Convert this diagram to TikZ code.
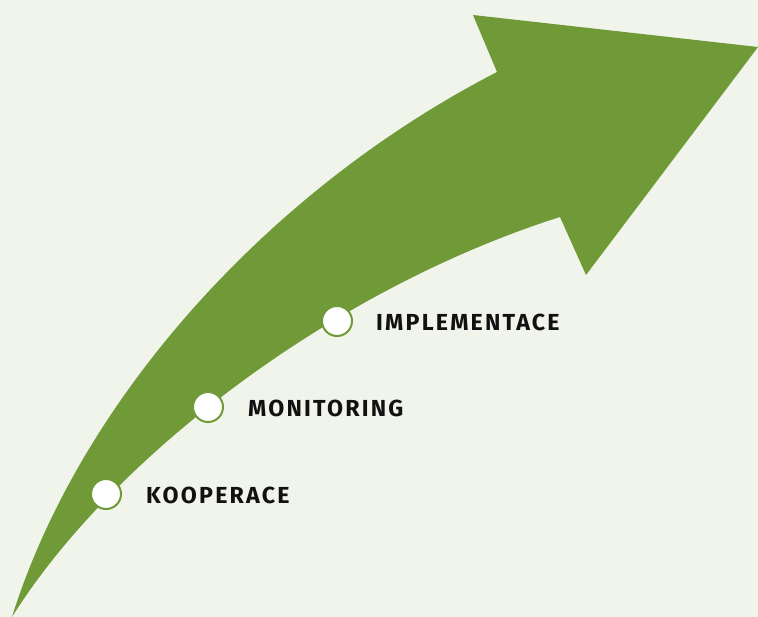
\documentclass[tikz,border=0pt]{standalone}
\usepackage{fontspec}
\setmainfont{Fira Sans}
\newfontfamily\labelfont[LetterSpace=9.5]{Fira Sans Bold}
\definecolor{bgc}{HTML}{F0F4EB}
\definecolor{arrowgreen}{HTML}{6F9A37}
\definecolor{txt}{HTML}{111111}
\begin{document}
\begin{tikzpicture}[x=1pt,y=-1pt,
  stepdot/.style={circle,fill=white,draw=arrowgreen,line width=2pt,minimum size=30pt,inner sep=0pt},
  steplabel/.style={anchor=west,text=txt,font=\labelfont\fontsize{23.2}{27}\selectfont,inner sep=0pt}]
\fill[bgc] (0,0) rectangle (758,617);
\useasboundingbox (0,0) rectangle (758,617);
% arrow body
\fill[arrowgreen] (12,617) .. controls (80,400) and (268,190) .. (497,72)
  -- (473,15) -- (758,47) -- (586,275) -- (560,217)
  .. controls (330,290) and (110,460) .. (12,617) -- cycle;
% steps
\node[stepdot] (d1) at (106,494) {};
\node[stepdot] (d2) at (208,407) {};
\node[stepdot] (d3) at (337,321) {};
\node[steplabel] (l1) at ([xshift=24pt,yshift=-1pt]d1.east) {KOOPERACE};
\node[steplabel] (l2) at ([xshift=24pt,yshift=-1pt]d2.east) {MONITORING};
\node[steplabel] (l3) at ([xshift=23pt,yshift=-1pt]d3.east) {IMPLEMENTACE};
\end{tikzpicture}
\end{document}
